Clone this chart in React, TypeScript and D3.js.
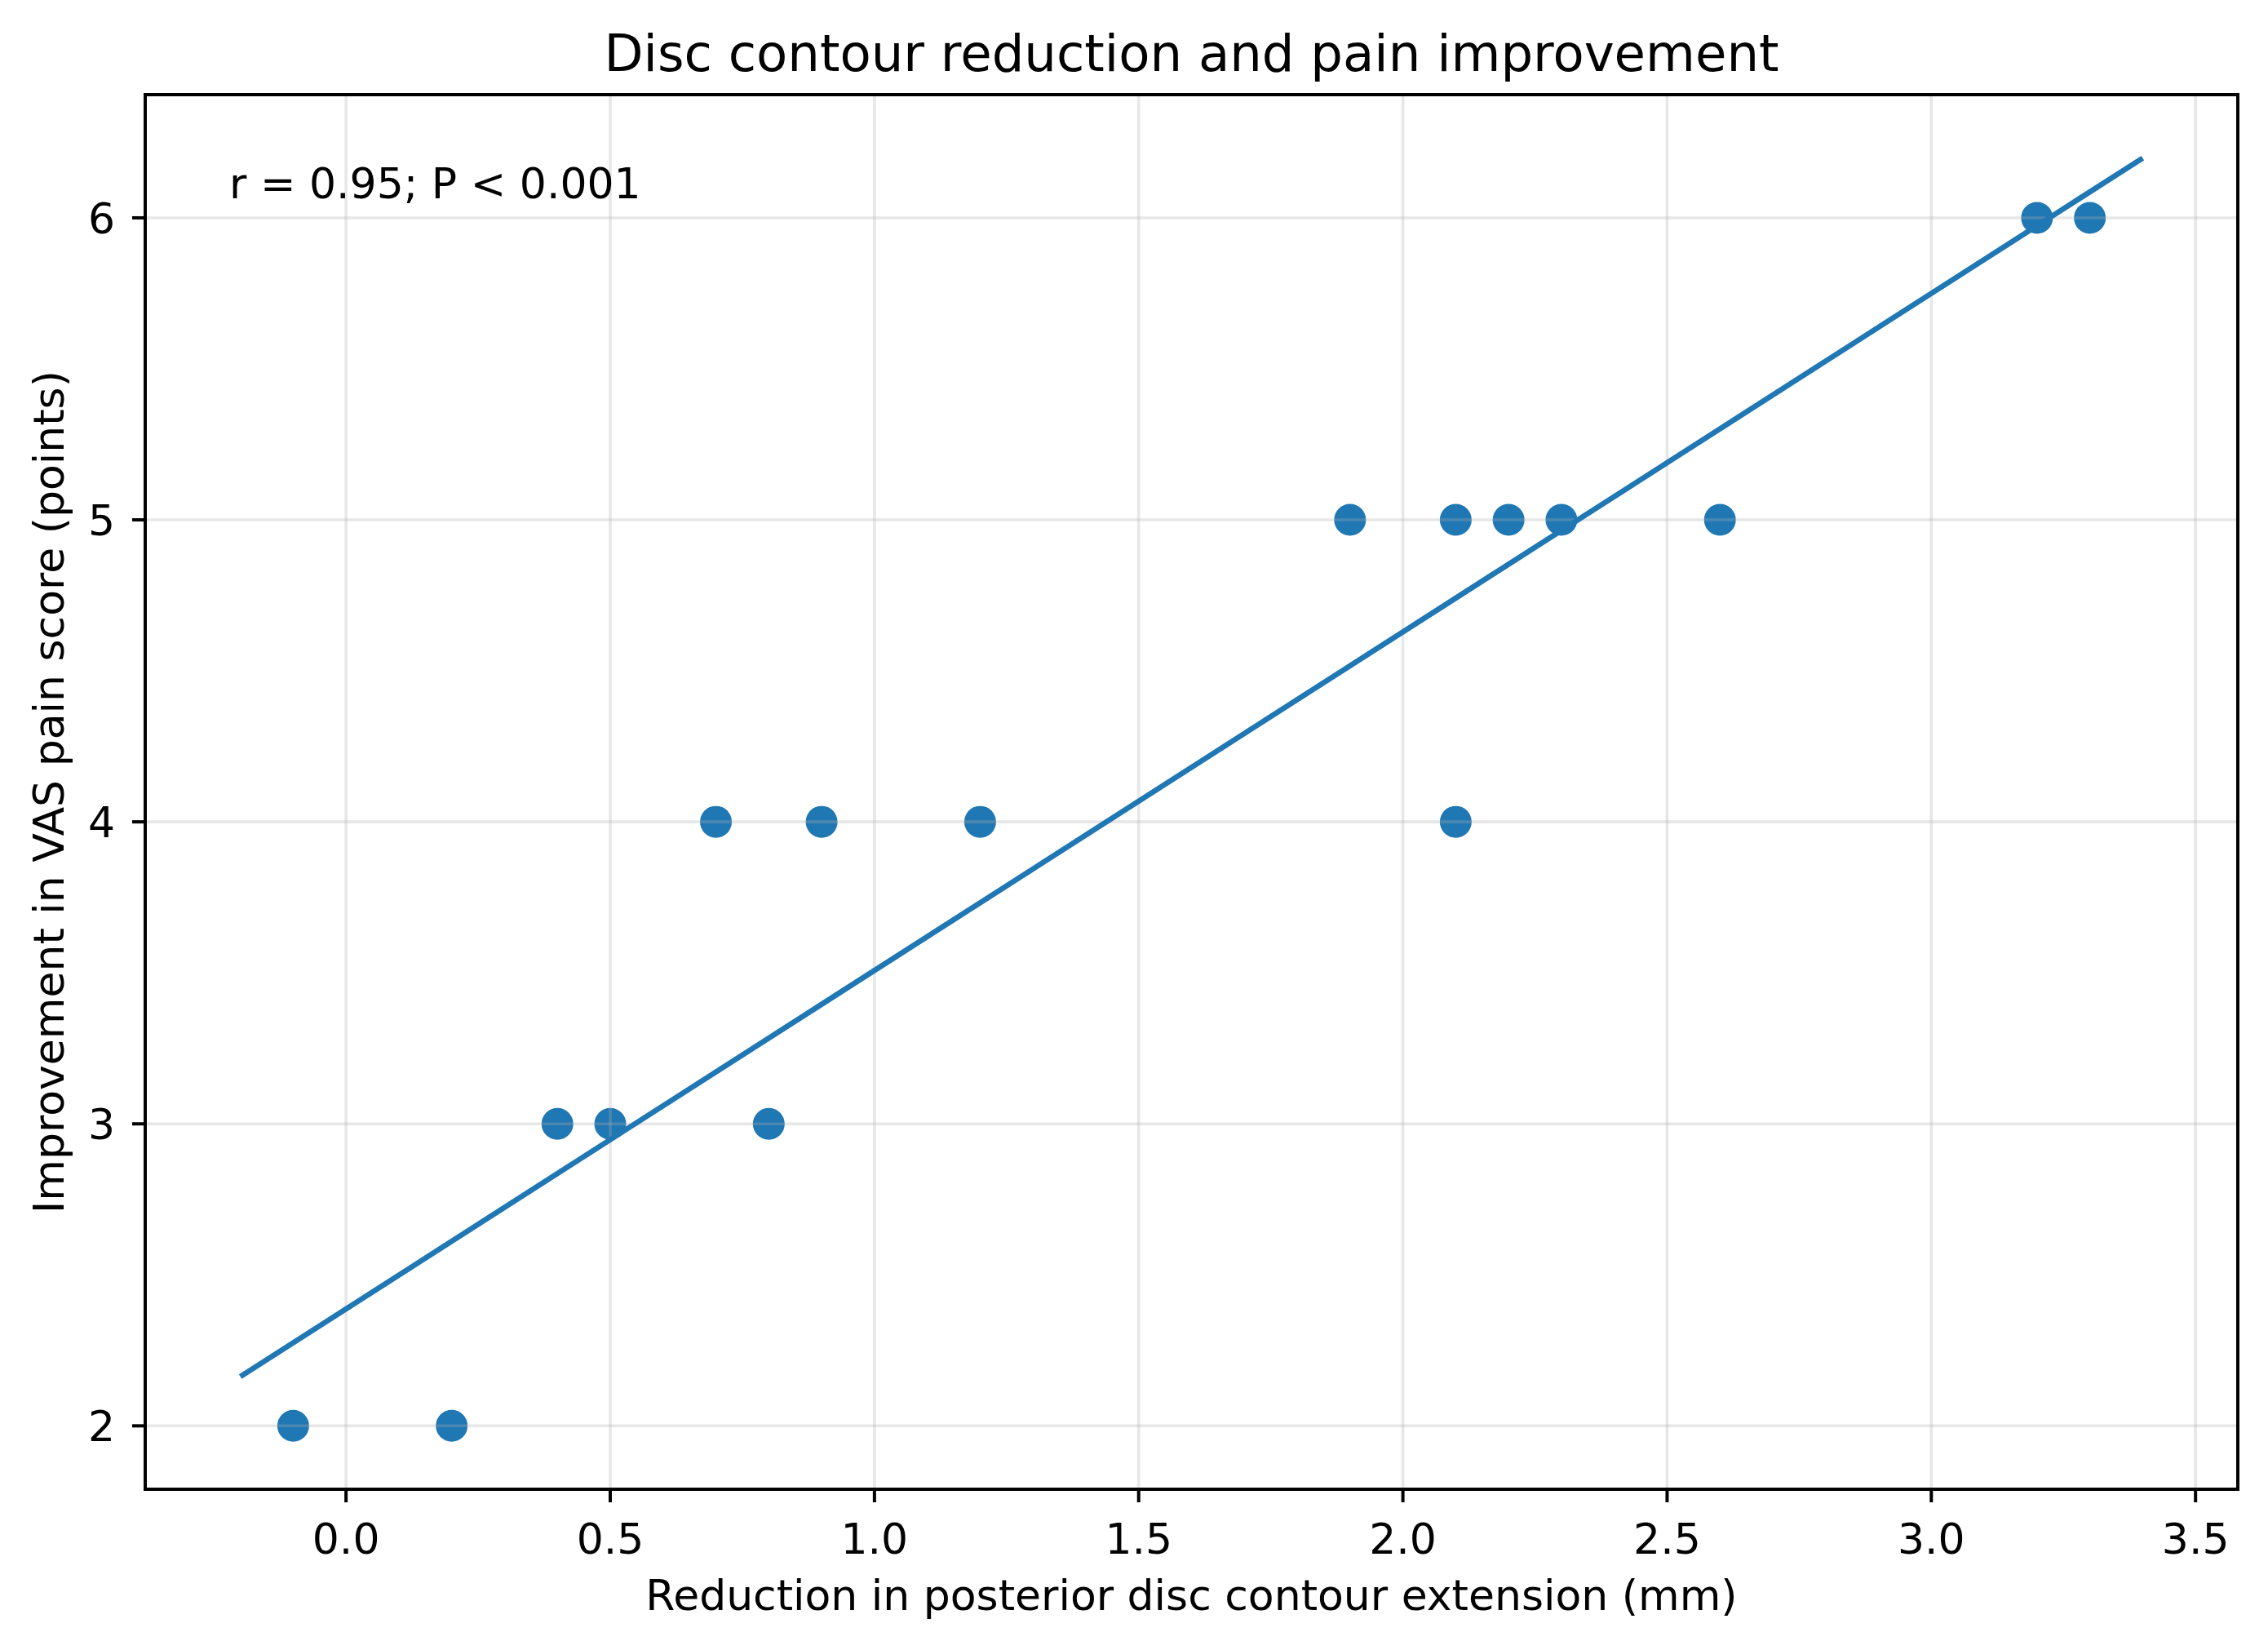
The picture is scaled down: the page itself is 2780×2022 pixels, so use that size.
import React from "react";
import * as d3 from "d3";

// ---- data ----
const reductionMm: number[] = [-0.1, 0.2, 0.4, 0.5, 0.8, 0.7, 0.9, 1.2, 2.1, 1.9, 2.1, 2.2, 2.3, 2.6, 3.2, 3.3];
const vasImprovement: number[] = [2, 2, 3, 3, 3, 4, 4, 4, 4, 5, 5, 5, 5, 5, 6, 6];
const fitX: number[] = [-0.2, 3.4];
const fitY: number[] = [2.163, 6.198];
const xTicks: number[] = [0, 0.5, 1, 1.5, 2, 2.5, 3, 3.5];
const yTicks: number[] = [2, 3, 4, 5, 6];
const titleText = "Disc contour reduction and pain improvement";
const xLabelText = "Reduction in posterior disc contour extension (mm)";
const yLabelText = "Improvement in VAS pain score (points)";
const annotationText = "r = 0.95; P < 0.001";

const W = 2780;
const H = 2022;
const L = 178, R = 2743, T = 116, B = 1825;
const BLUE = "#1f77b4";
const FONT = "'DejaVu Sans', sans-serif";

function padded(vals: number[]): [number, number] {
  const [lo, hi] = d3.extent(vals) as [number, number];
  const m = (hi - lo) * 0.05;
  return [lo - m, hi + m];
}

export default function App() {
  const x = d3.scaleLinear().domain(padded([...reductionMm, ...fitX])).range([L, R]);
  const y = d3.scaleLinear().domain(padded([...vasImprovement, ...fitY])).range([B, T]);
  const line = d3.line<number>().x((_, i) => x(fitX[i])).y((d) => y(d));
  const fmtX = d3.format(".1f");

  return (
    <svg
      width={W}
      height={H}
      viewBox={`0 0 ${W} ${H}`}
      style={{ position: "absolute", left: 0, top: 0, background: "#fff" }}
      fontFamily={FONT}
    >
      <rect x={0} y={0} width={W} height={H} fill="#fff" />
      {/* scatter */}
      {reductionMm.map((d, i) => (
        <circle key={i} cx={x(d)} cy={y(vasImprovement[i])} r={19.5} fill={BLUE} />
      ))}
      {/* grid (drawn above markers as in matplotlib) */}
      <g stroke="#b0b0b0" strokeOpacity={0.3} strokeWidth={3.6}>
        {xTicks.map((t) => (
          <line key={"gx" + t} x1={x(t)} x2={x(t)} y1={T} y2={B} />
        ))}
        {yTicks.map((t) => (
          <line key={"gy" + t} x1={L} x2={R} y1={y(t)} y2={y(t)} />
        ))}
      </g>
      {/* fit line */}
      <path d={line(fitY) || ""} fill="none" stroke={BLUE} strokeWidth={6.6} />
      {/* spines */}
      <rect x={L} y={T} width={R - L} height={B - T} fill="none" stroke="#000" strokeWidth={4} />
      {/* x ticks */}
      {xTicks.map((t) => (
        <g key={"xt" + t}>
          <line x1={x(t)} x2={x(t)} y1={B} y2={B + 16} stroke="#000" strokeWidth={4} />
          <text x={x(t)} y={1904} fontSize={52} textAnchor="middle" fill="#000">
            {fmtX(t)}
          </text>
        </g>
      ))}
      {/* y ticks */}
      {yTicks.map((t) => (
        <g key={"yt" + t}>
          <line x1={L - 16} x2={L} y1={y(t)} y2={y(t)} stroke="#000" strokeWidth={4} />
          <text x={141} y={y(t) + 19} fontSize={52} textAnchor="end" fill="#000">
            {String(t)}
          </text>
        </g>
      ))}
      {/* annotation */}
      <text x={281} y={243} fontSize={52} fill="#000">
        {annotationText}
      </text>
      {/* labels */}
      <text x={(L + R) / 2} y={1973} fontSize={52} textAnchor="middle" fill="#000">
        {xLabelText}
      </text>
      <text
        transform={`translate(78, ${(T + B) / 2}) rotate(-90)`}
        fontSize={52}
        textAnchor="middle"
        fill="#000"
      >
        {yLabelText}
      </text>
      <text x={(L + R) / 2} y={87} fontSize={62.5} textAnchor="middle" fill="#000">
        {titleText}
      </text>
    </svg>
  );
}
